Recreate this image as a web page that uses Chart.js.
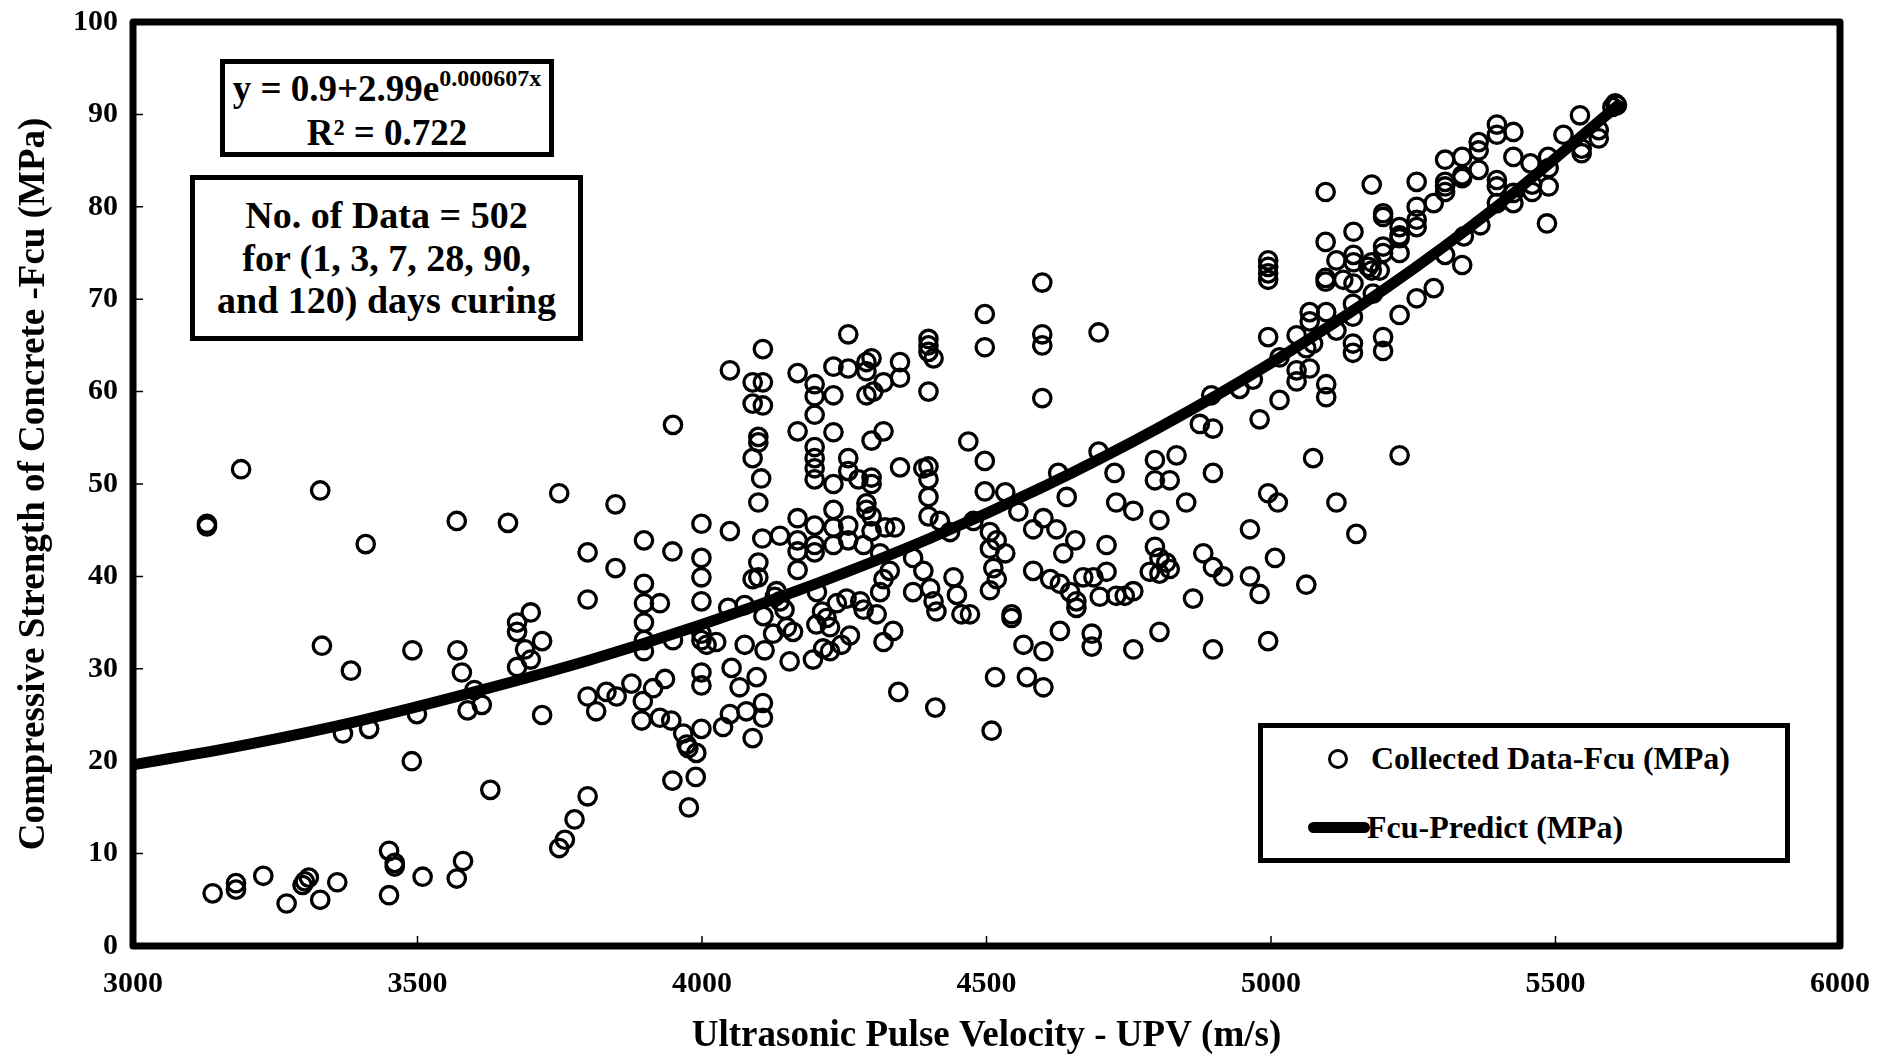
<!DOCTYPE html>
<html>
<head>
<meta charset="utf-8">
<title>UPV vs Fcu</title>
<script src="https://cdn.jsdelivr.net/npm/chart.js@4.4.1/dist/chart.umd.min.js"></script>
<style>
  body { margin: 0; background: #fff; }
  #wrap { position: relative; width: 1893px; height: 1055px; }
  .serif { font-family: 'Liberation Serif', 'Times New Roman', serif; font-weight: bold; color: #000; }
  .box { position: absolute; border: 5px solid #000; box-sizing: border-box; text-align: center; background: #fff; }
  .abs { position: absolute; white-space: nowrap; }
</style>
</head>
<body>
<div id="wrap">
  <canvas id="upvChart" width="1893" height="1055"></canvas>

  <!-- fitted equation -->
  <div class="box serif" style="left:220px; top:59px; width:334px; height:98px; padding-top:5px; font-size:37px; line-height:39px;">
    y = 0.9+2.99e<span style="font-size:24px; position:relative; top:-15px;">0.000607x</span><br>
    R² = 0.722
  </div>

  <!-- data note -->
  <div class="box serif" style="left:190px; top:175px; width:393px; height:166px; padding-top:14px; font-size:38px; line-height:42.5px;">
    No. of Data = 502<br>
    for (1, 3, 7, 28, 90,<br>
    and 120) days curing
  </div>

  <!-- legend -->
  <div class="box" style="left:1258px; top:723px; width:532px; height:140px;"></div>
  <div class="abs" style="left:1328px; top:749px; width:20px; height:20px; box-sizing:border-box; border:3.3px solid #000; border-radius:50%;"></div>
  <div class="abs serif" style="left:1371px; top:742px; font-size:32px; line-height:32px;">Collected Data-Fcu (MPa)</div>
  <div class="abs" style="left:1308px; top:822px; width:62px; height:11px; background:#000; border-radius:6px;"></div>
  <div class="abs serif" style="left:1367px; top:811px; font-size:32px; line-height:32px;">Fcu-Predict (MPa)</div>
</div>

<script>
const SERIF = "'Liberation Serif', 'Times New Roman', serif";

// Collected test results: [UPV (m/s), Fcu (MPa)]
const collected = [
  // below 3750 m/s
  [3130,45.7],[3130,45.4],[3190,51.6],[3329,49.3],[3409,43.5],[3569,46.0],[3659,45.8],[3749,49.0],
  [3332,32.5],[3383,29.8],[3491,32.0],[3570,32.0],[3578,29.6],
  [3675,35.0],[3699,36.1],[3675,34.0],[3719,33.0],[3689,32.1],[3699,31.0],[3675,30.2],
  [3600,27.7],[3613,26.1],[3588,25.5],[3499,25.1],[3369,23.0],[3415,23.5],[3490,20.0],[3628,16.9],[3719,25.0],[3749,10.6],
  [3140,5.7],[3181,6.8],[3181,6.1],[3229,7.6],[3270,4.6],[3298,6.6],[3309,7.4],[3302,7.0],[3329,5.0],[3359,6.9],
  [3450,10.3],[3460,9.0],[3460,8.6],[3450,5.5],[3509,7.5],[3569,7.3],[3580,9.2],
  // 3750 - 4225 m/s
  [3949,56.4],[3848,47.8],[3799,42.6],[3898,43.9],[3948,42.7],[3848,40.9],[3799,37.5],[3999,45.7],[4049,44.9],
  [4049,62.3],[4107,64.6],[4089,61.0],[4107,61.0],[4089,58.7],[4107,58.5],[4099,55.1],[4099,54.5],[4089,52.8],[4104,50.6],[4099,48.0],
  [4168,62.0],[4198,60.8],[4198,59.5],[4198,57.5],[4168,55.7],[4198,54.0],[4198,52.8],[4198,51.7],[4198,50.5],
  [3999,42.0],[3999,39.9],[3999,37.3],[3898,39.2],[3898,37.1],[3898,35.0],[3926,37.1],
  [4106,44.1],[4137,44.4],[4168,46.3],[4168,43.9],[4168,42.7],[4168,40.7],[4198,45.5],[4198,43.4],[4198,42.6],
  [4099,41.5],[4099,39.9],[4089,39.7],[4046,36.6],[4075,36.9],[4128,37.8],[4145,36.4],[4108,35.7],[4125,33.8],[4110,32.0],[4160,34.0],[4154,30.8],
  [4201,34.8],[4219,35.5],[4213,32.2],[4195,31.0],
  [3999,33.8],[4008,32.6],[4025,32.9],[3999,33.1],[4075,32.6],[3949,33.1],[3898,33.1],[3898,31.9],
  [3799,27.0],[3814,25.4],[3832,27.5],[3850,27.0],[3876,28.4],[3896,26.5],[3894,24.4],[3914,27.9],[3935,28.9],[3926,24.7],[3946,24.4],
  [3967,23.0],[3973,21.8],[3976,21.4],[3990,20.9],[3999,23.5],[3999,29.6],[3999,28.2],
  [4052,30.1],[4066,28.0],[4049,25.1],[4037,23.7],[4078,25.4],[4096,29.1],[4107,26.3],[4107,24.7],[4089,22.5],
  [3948,17.9],[3989,18.3],[3977,15.0],[3799,16.2],[3776,13.7],[3759,11.5],[4137,37.3],
  [4131,38.4],[4149,34.5],[4202,38.3],[4211,36.2],
  // 4225 - 4705 m/s
  [4598,71.8],[4497,68.4],[4497,64.8],[4598,66.2],[4598,65.0],[4598,59.3],[4697,66.4],[4257,66.2],
  [4398,65.7],[4398,65.0],[4398,64.3],[4407,63.6],[4398,60.0],
  [4231,62.7],[4257,62.5],[4289,63.2],[4298,63.6],[4289,62.2],[4348,63.2],[4348,61.5],[4319,61.0],[4289,59.6],[4301,60.0],[4231,59.6],
  [4231,55.6],[4298,54.7],[4319,55.7],[4468,54.6],[4497,52.5],
  [4257,52.8],[4257,51.4],[4275,50.5],[4298,50.7],[4298,50.0],[4231,50.0],[4348,51.8],[4389,51.7],[4398,51.9],[4398,50.5],
  [4398,48.6],[4398,46.5],[4418,46.0],[4497,49.2],[4533,49.1],[4556,47.0],
  [4289,47.9],[4289,47.2],[4298,46.5],[4298,44.9],[4322,45.3],[4339,45.3],[4231,47.2],[4231,45.3],[4231,43.4],[4257,45.5],[4257,43.9],[4284,43.4],[4313,42.5],
  [4436,44.8],[4477,46.0],[4506,44.8],[4518,43.9],[4533,42.5],[4506,43.0],[4512,40.9],[4518,39.7],[4506,38.5],
  [4582,45.1],[4600,46.3],[4623,45.1],[4656,43.9],[4635,42.5],[4641,48.6],[4626,51.2],[4697,53.5],
  [4330,40.6],[4371,42.0],[4389,40.6],[4401,38.7],[4371,38.3],[4442,39.9],[4448,38.0],[4407,37.3],[4412,36.2],[4456,35.9],[4471,35.9],[4544,35.9],[4544,35.5],
  [4582,40.6],[4612,39.7],[4629,39.2],[4647,38.3],[4658,37.3],[4658,36.6],[4670,39.9],[4688,39.9],[4699,37.8],
  [4313,38.3],[4319,39.7],[4307,35.9],[4336,34.1],[4319,32.9],[4254,37.6],[4278,37.3],[4284,36.4],[4237,37.1],[4260,33.6],[4245,32.6],[4225,31.9],[4225,34.5],
  [4565,32.6],[4600,31.9],[4629,34.1],[4685,33.8],[4685,32.4],[4345,27.5],[4410,25.8],[4515,29.1],[4571,29.1],[4600,28.0],[4509,23.3],
  // 4705 - 5280 m/s, below 70 MPa
  [5068,68.6],[5068,67.6],[5097,68.6],[5115,66.6],[5144,69.5],[5144,68.1],[4995,65.9],[5045,66.1],[5062,64.7],[5074,65.2],[5015,63.7],
  [5045,62.3],[5045,61.1],[5068,62.5],[5097,60.8],[5097,59.4],[5144,65.2],[5144,64.2],[5197,65.9],[5197,64.4],[5226,68.3],
  [4895,59.6],[4875,56.5],[4898,56.0],[4945,60.3],[4968,61.3],[5015,59.1],[4980,57.0],[5074,52.8],[5226,53.1],
  [4796,52.6],[4834,53.1],[4796,50.4],[4822,50.4],[4898,51.2],[4725,51.2],[4728,48.0],[4758,47.1],[4711,43.4],[4711,40.5],
  [4804,46.1],[4851,48.0],[4995,49.0],[5012,48.0],[4963,45.1],[5115,48.0],[5150,44.6],[5007,42.0],
  [4796,43.2],[4804,42.0],[4816,41.5],[4822,40.8],[4787,40.5],[4804,40.3],[4881,42.5],[4898,41.0],[4916,40.0],[4963,40.0],[4980,38.1],[5062,39.1],
  [4728,37.9],[4743,37.9],[4758,38.4],[4863,37.6],[4804,34.0],[4758,32.1],[4898,32.1],[4995,33.0],
  // 4705 - 5280 m/s, 70 MPa and above
  [5096,81.6],[5177,82.4],[5256,82.7],[5197,79.3],[5197,78.9],[5256,80.0],[5256,78.6],[5256,77.8],[5226,77.8],[5226,76.9],
  [5145,77.3],[5145,74.8],[5145,74.0],[5145,71.7],[5177,74.0],[5177,73.1],[5197,75.7],[5197,75.0],[5226,76.6],[5226,75.0],
  [5096,76.2],[5096,72.3],[5096,71.9],[5115,74.2],[4995,74.2],[4995,73.5],[4995,72.8],[4995,72.1],[5127,72.1],[5171,73.5],[5191,73.1],[5179,70.6],[5256,70.1],
  // 5280 m/s and above
  [5605,91.2],[5608,91.0],[5600,90.8],[5543,89.9],[5514,87.8],[5546,86.3],[5546,85.8],[5576,88.3],[5576,87.4],
  [5397,88.9],[5397,87.8],[5426,88.1],[5426,85.4],[5365,87.0],[5365,86.1],[5365,84.0],
  [5306,85.1],[5306,82.7],[5306,82.2],[5306,81.6],[5336,85.4],[5336,83.4],[5336,83.1],
  [5397,82.9],[5397,82.2],[5397,80.4],[5426,81.5],[5426,80.4],[5456,84.7],[5459,82.4],[5459,81.6],[5488,82.2],[5488,84.2],[5487,85.4],[5485,78.2],
  [5286,80.4],[5306,74.8],[5336,73.7],[5339,76.8],[5368,78.0],[5286,71.2]
];

// Predicted strength curve
const predUpv = [3000, 3200, 3400, 3600, 3800, 4000, 4200, 4400, 4600, 4800, 5000, 5200, 5400, 5610];
const predFcu = [19.6, 21.8, 24.4, 27.5, 30.9, 34.8, 39.2, 44.1, 49.7, 56.0, 63.1, 71.1, 80.2, 91.0];

// Axis limits and steps
const xRange = [3000, 6000];
const yRange = [0, 100];
const xStep = 500;
const yStep = 10;

// thick frame around the plot with short inward tick marks
const framePlugin = {
  id: 'frame',
  afterDatasetsDraw(chart) {
    const { ctx, chartArea: a, scales: { x, y } } = chart;
    ctx.save();
    ctx.strokeStyle = '#000';
    ctx.lineWidth = 1.5;
    ctx.beginPath();
    x.ticks.forEach(t => {
      if (t.value <= xRange[0] || t.value >= xRange[1]) return;
      const px = x.getPixelForValue(t.value);
      ctx.moveTo(px, a.bottom);
      ctx.lineTo(px, a.bottom - 10);
    });
    y.ticks.forEach(t => {
      if (t.value <= yRange[0] || t.value >= yRange[1]) return;
      const py = y.getPixelForValue(t.value);
      ctx.moveTo(a.left, py);
      ctx.lineTo(a.left + 10, py);
    });
    ctx.stroke();
    ctx.lineWidth = 7;
    ctx.lineJoin = 'round';
    ctx.strokeRect(a.left, a.top, a.right - a.left, a.bottom - a.top);
    ctx.restore();
  }
};

const tickFont = { family: SERIF, size: 30, weight: 'bold' };
const titleFont = { family: SERIF, size: 37, weight: 'bold' };

new Chart(document.getElementById('upvChart'), {
  type: 'scatter',
  data: {
    datasets: [
      {
        type: 'line',
        label: 'Fcu-Predict (MPa)',
        data: predUpv.map((v, i) => ({ x: v, y: predFcu[i] })),
        borderColor: '#000',
        borderWidth: 11,
        borderCapStyle: 'round',
        pointRadius: 0,
        cubicInterpolationMode: 'monotone',
        fill: false,
        clip: 0,
        order: 0
      },
      {
        label: 'Collected Data-Fcu (MPa)',
        data: collected.map(([v, f]) => ({ x: v, y: f })),
        pointStyle: 'circle',
        pointRadius: 8.7,
        borderWidth: 3.3,
        borderColor: '#000',
        backgroundColor: 'rgba(0,0,0,0)',
        order: 1
      }
    ]
  },
  options: {
    responsive: false,
    animation: false,
    layout: { padding: { top: 22, right: 53, left: 0, bottom: 0 } },
    plugins: {
      legend: { display: false },
      tooltip: { enabled: false }
    },
    scales: {
      x: {
        type: 'linear',
        min: xRange[0],
        max: xRange[1],
        grid: { display: false, drawTicks: false },
        border: { display: false },
        ticks: { stepSize: xStep, color: '#000', font: tickFont, padding: 20, callback: v => String(v) },
        title: {
          display: true,
          text: 'Ultrasonic Pulse Velocity - UPV (m/s)',
          color: '#000',
          font: titleFont,
          padding: { top: 0, bottom: -4 }
        },
        afterFit(scale) {
          scale.height = 109;
          scale.paddingLeft = 0;
          scale.paddingRight = 0;
        }
      },
      y: {
        min: yRange[0],
        max: yRange[1],
        grid: { display: false, drawTicks: false },
        border: { display: false },
        ticks: { stepSize: yStep, color: '#000', font: tickFont, padding: 15, callback: v => String(v) },
        title: {
          display: true,
          text: 'Compressive Strength of Concrete -Fcu (MPa)',
          color: '#000',
          font: titleFont,
          padding: { top: 12, bottom: 0 }
        },
        afterFit(scale) {
          scale.width = 133;
          scale.paddingTop = 0;
          scale.paddingBottom = 0;
        }
      }
    }
  },
  plugins: [framePlugin]
});
</script>
</body>
</html>
